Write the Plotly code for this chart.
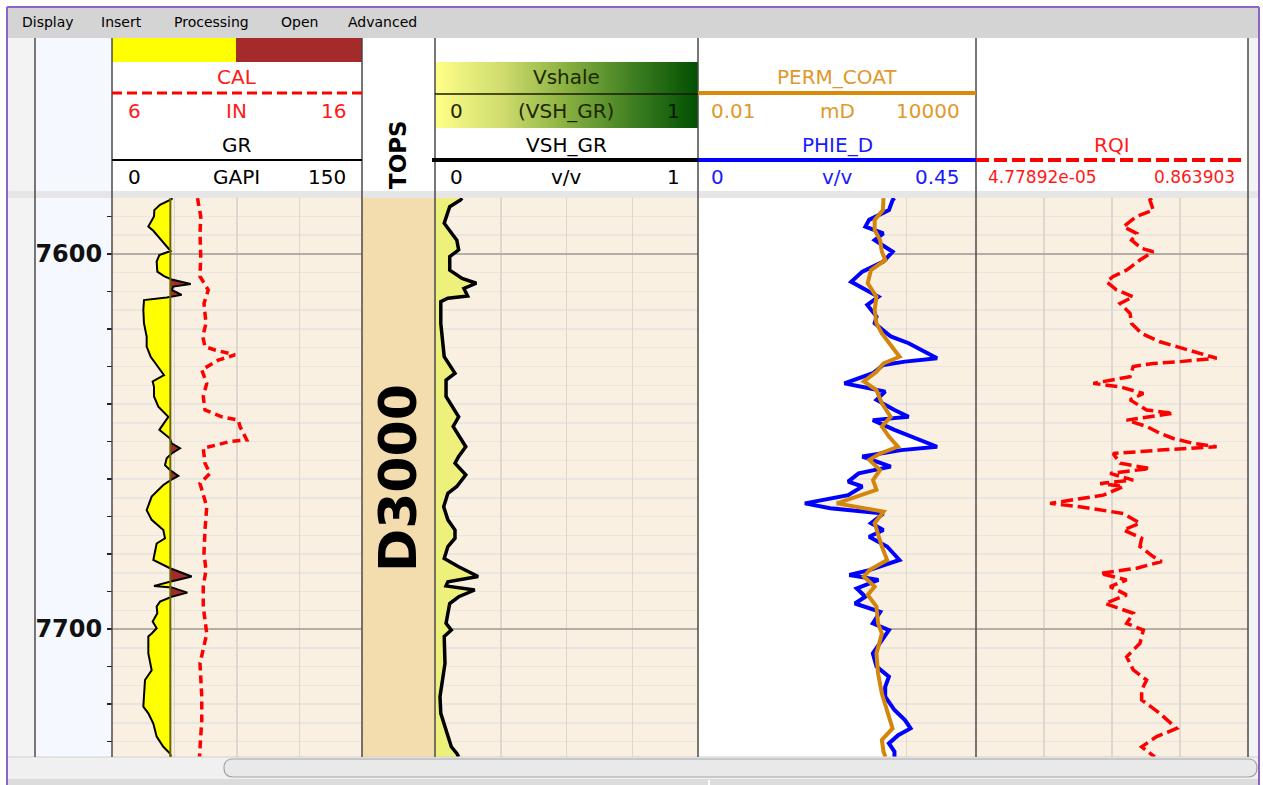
import numpy as np
import plotly.graph_objects as go

# ---------------- data ----------------
DEPTH_TOP = 7585.07
DEPTH_BOTTOM = 7734.13
DEPTH_LABELS = [7600, 7700]

# (depth ft, GR gAPI)
GR_LOG = [
    (7585.1, 35.8), (7585.4, 35.8), (7586.9, 28.8), (7588.3, 25.4), (7590.0, 25.2), (7592.7, 21.8),
    (7593.8, 24.8), (7597.2, 31.2), (7599.2, 35.2), (7600.3, 28.4), (7602.0, 26.8), (7604.7, 27.2),
    (7605.9, 31.2), (7606.8, 35.8), (7608.0, 47.2), (7608.7, 36.8), (7609.6, 35.8), (7610.9, 41.8),
    (7611.6, 32.8), (7612.3, 19.2), (7614.9, 18.8), (7618.5, 19.2), (7622.0, 20.8), (7624.7, 20.8),
    (7627.4, 23.2), (7629.6, 26.8), (7632.3, 31.2), (7634.0, 24.4), (7635.4, 25.2), (7638.0, 25.2),
    (7640.7, 27.8), (7643.4, 33.8), (7645.2, 30.8), (7646.9, 28.4), (7649.2, 34.8), (7650.5, 35.8),
    (7651.8, 40.8), (7653.2, 35.8), (7654.5, 32.8), (7656.3, 31.8), (7657.6, 34.8), (7659.2, 39.8),
    (7660.3, 35.2), (7661.6, 30.8), (7664.7, 23.8), (7668.3, 20.8), (7670.9, 23.8), (7673.6, 30.8),
    (7675.8, 31.8), (7677.2, 26.8), (7679.4, 25.8), (7681.6, 24.8), (7683.8, 34.8), (7686.0, 47.8),
    (7687.4, 34.8), (7688.5, 25.2), (7688.9, 35.8), (7690.3, 45.2), (7691.4, 35.8), (7692.7, 28.8),
    (7694.0, 26.8), (7695.8, 27.2), (7698.0, 24.4), (7699.8, 26.8), (7701.2, 23.8), (7702.0, 21.8),
    (7706.5, 21.8), (7711.0, 23.8), (7713.6, 19.8), (7717.2, 19.2), (7720.7, 18.8), (7722.5, 21.8),
    (7725.2, 24.8), (7728.7, 26.8), (7731.4, 30.8), (7733.2, 34.8), (7734.1, 35.4),
]
GR_CUTOFF = 35.0

# (depth ft, caliper in)
CAL_LOG = [
    (7585.1, 9.42), (7585.4, 9.43), (7590.0, 9.55), (7594.5, 9.52), (7600.7, 9.55), (7606.0, 9.52),
    (7609.6, 9.85), (7613.2, 9.68), (7618.5, 9.76), (7622.0, 9.63), (7624.7, 9.72), (7625.6, 10.12),
    (7626.9, 10.92), (7628.3, 10.25), (7630.9, 9.59), (7634.5, 9.79), (7638.0, 9.65), (7641.6, 9.72),
    (7643.4, 10.39), (7644.3, 11.05), (7646.0, 11.12), (7649.6, 11.39), (7650.0, 10.72), (7650.9, 10.19),
    (7651.8, 9.65), (7655.8, 9.72), (7658.5, 9.92), (7661.2, 9.52), (7667.4, 9.79), (7673.6, 9.72),
    (7679.8, 9.68), (7684.3, 9.76), (7688.7, 9.65), (7694.0, 9.65), (7701.2, 9.79), (7709.2, 9.52),
    (7718.0, 9.59), (7724.3, 9.59), (7731.4, 9.52), (7734.1, 9.50),
]

# (depth ft, VSH_GR v/v)
VSH_LOG = [
    (7585.1, 0.103), (7585.6, 0.097), (7587.4, 0.056), (7591.8, 0.035), (7596.3, 0.083), (7598.9, 0.090),
    (7600.7, 0.056), (7604.3, 0.056), (7606.5, 0.103), (7607.8, 0.157), (7609.2, 0.110), (7611.2, 0.124),
    (7611.8, 0.049), (7612.7, 0.022), (7618.5, 0.022), (7622.9, 0.029), (7627.4, 0.035), (7631.8, 0.076),
    (7633.6, 0.042), (7638.0, 0.042), (7643.4, 0.090), (7646.0, 0.069), (7651.4, 0.117), (7654.0, 0.090),
    (7655.8, 0.076), (7658.9, 0.117), (7662.0, 0.083), (7663.8, 0.049), (7667.4, 0.033), (7670.9, 0.049),
    (7673.6, 0.076), (7675.8, 0.076), (7678.0, 0.049), (7681.2, 0.035), (7683.4, 0.090), (7686.0, 0.164),
    (7687.4, 0.049), (7688.5, 0.042), (7689.6, 0.151), (7691.4, 0.090), (7693.2, 0.056), (7695.8, 0.049),
    (7698.5, 0.042), (7700.3, 0.062), (7702.0, 0.035), (7709.2, 0.038), (7713.6, 0.029), (7718.0, 0.019),
    (7722.5, 0.022), (7727.0, 0.042), (7731.4, 0.062), (7733.2, 0.083), (7734.1, 0.090),
]

# (depth ft, PHIE_D v/v)
PHIE_LOG = [
    (7585.1, 0.318), (7585.6, 0.315), (7588.3, 0.309), (7590.9, 0.277), (7592.7, 0.271), (7594.5, 0.300),
    (7596.3, 0.286), (7599.4, 0.315), (7602.0, 0.300), (7604.7, 0.266), (7607.4, 0.248), (7609.6, 0.274),
    (7611.4, 0.292), (7613.6, 0.274), (7616.7, 0.289), (7618.5, 0.286), (7622.0, 0.312), (7623.8, 0.341),
    (7626.5, 0.373), (7627.8, 0.387), (7628.7, 0.335), (7629.6, 0.300), (7631.8, 0.283), (7634.5, 0.237),
    (7635.8, 0.277), (7636.7, 0.303), (7638.9, 0.289), (7641.6, 0.318), (7643.4, 0.341), (7644.3, 0.283),
    (7646.9, 0.318), (7649.2, 0.352), (7651.4, 0.387), (7652.3, 0.329), (7654.0, 0.266), (7656.7, 0.312),
    (7658.5, 0.260), (7660.7, 0.243), (7662.0, 0.266), (7664.3, 0.243), (7666.5, 0.173), (7667.8, 0.214),
    (7669.2, 0.300), (7671.8, 0.280), (7673.6, 0.300), (7675.4, 0.277), (7678.0, 0.306), (7681.6, 0.326),
    (7684.3, 0.277), (7685.6, 0.245), (7686.9, 0.292), (7689.2, 0.257), (7691.4, 0.271), (7693.2, 0.254),
    (7695.4, 0.295), (7698.5, 0.283), (7700.3, 0.309), (7702.9, 0.298), (7706.5, 0.283), (7710.0, 0.289),
    (7712.7, 0.309), (7715.4, 0.303), (7718.0, 0.303), (7721.6, 0.318), (7724.3, 0.335), (7726.5, 0.344),
    (7728.3, 0.324), (7730.5, 0.309), (7732.7, 0.318), (7734.1, 0.318),
]

# (depth ft, PERM_COAT mD)
PERM_LOG = [
    (7585.1, 101), (7585.6, 101), (7588.3, 98), (7590.9, 65), (7593.6, 65), (7596.3, 85), (7599.4, 93),
    (7601.6, 111), (7604.3, 54), (7607.8, 46), (7611.4, 71), (7614.9, 65), (7618.5, 71), (7621.2, 93),
    (7624.7, 158), (7627.4, 224), (7629.2, 101), (7631.4, 71), (7634.0, 38), (7636.3, 71), (7639.8, 93),
    (7643.4, 144), (7646.0, 93), (7648.7, 132), (7651.4, 206), (7653.2, 85), (7654.9, 50), (7657.6, 85),
    (7660.3, 60), (7662.9, 71), (7666.5, 10), (7668.7, 101), (7671.8, 65), (7674.9, 77), (7678.0, 93),
    (7681.6, 121), (7684.3, 50), (7686.0, 38), (7688.7, 65), (7690.9, 46), (7694.0, 71), (7698.5, 77),
    (7701.2, 93), (7706.5, 71), (7711.8, 77), (7717.2, 93), (7721.6, 121), (7726.5, 158), (7729.6, 93),
    (7732.7, 101), (7734.1, 111),
]

# (depth ft, RQI)
RQI_LOG = [
    (7585.1, 0.0270), (7585.6, 0.0252), (7588.3, 0.0284), (7590.0, 0.0156), (7592.7, 0.0097),
    (7594.5, 0.0156), (7596.3, 0.0130), (7598.5, 0.0187), (7599.4, 0.0284), (7601.6, 0.0176),
    (7604.3, 0.0109), (7606.0, 0.0067), (7607.4, 0.0053), (7609.6, 0.0076), (7611.4, 0.0138),
    (7613.2, 0.0086), (7615.8, 0.0123), (7618.5, 0.0130), (7621.2, 0.0187), (7623.4, 0.0361),
    (7624.7, 0.0659), (7626.5, 0.153), (7627.8, 0.279), (7628.7, 0.0743), (7629.2, 0.0284),
    (7630.0, 0.0138), (7632.7, 0.0123), (7634.5, 0.00327), (7635.4, 0.0086), (7637.2, 0.0199),
    (7638.9, 0.0123), (7641.6, 0.0224), (7642.5, 0.0585), (7644.3, 0.0109), (7646.0, 0.0224),
    (7647.8, 0.0361), (7649.2, 0.0585), (7650.5, 0.120), (7651.4, 0.279), (7652.3, 0.0361),
    (7653.2, 0.0067), (7655.8, 0.0086), (7657.2, 0.0252), (7658.5, 0.0060), (7660.3, 0.0138),
    (7661.2, 0.0042), (7662.0, 0.0097), (7664.3, 0.0047), (7666.5, 0.00069), (7667.4, 0.0020),
    (7668.7, 0.0060), (7669.2, 0.0097), (7671.8, 0.0176), (7673.6, 0.0097), (7675.8, 0.0187),
    (7678.0, 0.0176), (7680.7, 0.0284), (7682.0, 0.0384), (7683.8, 0.0156), (7685.2, 0.0042),
    (7686.9, 0.0109), (7688.7, 0.0060), (7690.9, 0.0109), (7693.2, 0.0050), (7695.8, 0.0138),
    (7698.5, 0.0109), (7700.3, 0.0199), (7703.8, 0.0176), (7707.4, 0.0109), (7710.9, 0.0138),
    (7713.6, 0.0224), (7716.3, 0.0187), (7718.9, 0.0187), (7722.5, 0.0361), (7726.5, 0.0659),
    (7728.7, 0.0321), (7731.4, 0.0187), (7733.6, 0.0284), (7734.1, 0.0300),
]

GR_RANGE = [0, 150]
CAL_RANGE = [6, 16]
VSH_RANGE = [0, 1]
PHIE_RANGE = [0, 0.45]
PERM_RANGE = [0.01, 10000]
RQI_RANGE = [4.77892e-05, 0.863903]

MENU_ITEMS = ["Display", "Insert", "Processing", "Open", "Advanced"]
TOP_NAME = "D3000"

# ---------------- helpers ----------------
W, H = 1263, 785
FONT = "DejaVu Sans"


def px(x):
    return x / W


def py(y):
    return 1 - y / H


def unzip(pairs):
    d = np.array([p[0] for p in pairs], dtype=float)
    v = np.array([p[1] for p in pairs], dtype=float)
    return d, v


def split_at(depths, vals, cut):
    d_out, v_out = [], []
    for i in range(len(vals)):
        if i > 0:
            v0, v1 = vals[i - 1], vals[i]
            if (v0 - cut) * (v1 - cut) < 0:
                t = (cut - v0) / (v1 - v0)
                d_out.append(depths[i - 1] + t * (depths[i] - depths[i - 1]))
                v_out.append(cut)
        d_out.append(depths[i])
        v_out.append(vals[i])
    return np.array(d_out), np.array(v_out)


shapes = []
annotations = []


def rect(x0, y0, x1, y1, fill, line_color=None, lw=0, layer="below"):
    shapes.append(dict(type="rect", xref="paper", yref="paper", x0=px(x0), x1=px(x1), y0=py(y1), y1=py(y0),
                       fillcolor=fill, line=dict(color=line_color or fill, width=lw), layer=layer))


def line(x0, y0, x1, y1, color, width=1.0, dash="solid", layer="above"):
    shapes.append(dict(type="line", xref="paper", yref="paper", x0=px(x0), x1=px(x1), y0=py(y0), y1=py(y1),
                       line=dict(color=color, width=width, dash=dash), layer=layer))


def rounded(x0, y0, x1, y1, r, fill, border):
    def P(x, y):
        return f"{px(x):.6f},{py(y):.6f}"
    path = (f"M {P(x0 + r, y0)} L {P(x1 - r, y0)} Q {P(x1, y0)} {P(x1, y0 + r)} "
            f"L {P(x1, y1 - r)} Q {P(x1, y1)} {P(x1 - r, y1)} L {P(x0 + r, y1)} "
            f"Q {P(x0, y1)} {P(x0, y1 - r)} L {P(x0, y0 + r)} Q {P(x0, y0)} {P(x0 + r, y0)} Z")
    shapes.append(dict(type="path", xref="paper", yref="paper", path=path, fillcolor=fill,
                       line=dict(color=border, width=1.2), layer="above"))


def ann(text, x, y, color="#000000", size=20, anchor="center", bold=False, angle=0):
    annotations.append(dict(text=text, x=px(x), y=py(y), xref="paper", yref="paper", showarrow=False,
                            xanchor=anchor, yanchor="middle", textangle=angle,
                            font=dict(family=FONT, size=size, color=color, weight="bold" if bold else "normal")))


# ---------------- static frame ----------------
rect(8, 8, 1258, 38, "#d4d4d4")
rect(8, 38, 35, 757, "#f3f3f3")
rect(1248, 38, 1258, 757, "#f3f3f3")
rect(35, 38, 112, 757, "#f5f9ff")
rect(112, 38, 236, 62, "#ffff00")
rect(236, 38, 362, 62, "#a52a2a")
rect(362, 198, 435, 757, "#f3dcae")
rect(8, 191, 1258, 198, "#e6e6e6")
rect(8, 757, 1258, 779, "#f0f0f0")
rect(8, 779, 1258, 785, "#dcdcdc")
line(8, 757, 1258, 757, "#d0d0d0", 1)
rounded(224, 759, 1257, 777, 9, "#e9e9e9", "#a3a3a3")
line(709, 780, 709, 785, "#ffffff", 2)

for xv in [35, 112, 362, 435, 698, 976, 1248]:
    line(xv, 38, xv, 757, "#4a4a4a", 1.5)

# header lines
line(112, 93, 362, 93, "#ff0000", 3, "10px,5px")
line(112, 160, 362, 160, "#000000", 2)
line(435, 94, 698, 94, "#1a1a00", 1.5)
line(432, 160, 698, 160, "#000000", 4)
line(698, 93, 976, 93, "#d98a0a", 4)
line(698, 160, 976, 160, "#0000ff", 4)
line(976, 160, 1246, 160, "#ff0000", 4, "13px,5px")

# window frame
line(7, 7, 1259, 7, "#8c63c6", 2)
line(7, 7, 7, 785, "#8c63c6", 2)
line(1259, 7, 1259, 785, "#8c63c6", 2)

# GR cutoff line (data coordinates)
shapes.append(dict(type="line", xref="x", yref="paper", x0=GR_CUTOFF, x1=GR_CUTOFF, y0=py(757), y1=py(198),
                   line=dict(color="#6a6600", width=2), layer="above"))

# ---------------- text ----------------
for name, cx in zip(MENU_ITEMS, [48, 122, 211, 299, 383]):
    ann(name, cx, 22, "#000000", 14)

RED = "#ff1a1a"
ann("CAL", 237, 77, RED)
ann("6", 126, 111, RED, anchor="left")
ann("IN", 237, 111, RED)
ann("16", 348, 111, RED, anchor="right")
ann("GR", 237, 145)
ann("0", 126, 177, anchor="left")
ann("GAPI", 237, 177)
ann("150", 348, 177, anchor="right")

ann("TOPS", 398, 155, "#000000", 23, bold=True, angle=-90)
ann(TOP_NAME, 398, 478, "#000000", 52, bold=True, angle=-90)

DK = "#1e2600"
ann("Vshale", 566, 77, DK)
ann("0", 448, 111, DK, anchor="left")
ann("(VSH_GR)", 566, 111, DK)
ann("1", 682, 111, "#061400", anchor="right")
ann("VSH_GR", 566, 145)
ann("0", 448, 177, anchor="left")
ann("v/v", 566, 177)
ann("1", 682, 177, anchor="right")

OR = "#e0982a"
BL = "#1a1aff"
ann("PERM_COAT", 837, 77, OR)
ann("0.01", 709, 111, OR, anchor="left")
ann("mD", 837, 111, OR)
ann("10000", 962, 111, OR, anchor="right")
ann("PHIE_D", 837, 145, BL)
ann("0", 709, 177, BL, anchor="left")
ann("v/v", 837, 177, BL)
ann("0.45", 962, 177, BL, anchor="right")

ann("RQI", 1112, 145, RED)
ann("4.77892e-05", 986, 177, RED, 17, anchor="left")
ann("0.863903", 1237, 177, RED, 17, anchor="right")

# ---------------- traces ----------------
fig = go.Figure()

gr_d, gr_v = unzip(GR_LOG)
fd, fv = split_at(gr_d, gr_v, GR_CUTOFF)
base = np.full_like(fv, GR_CUTOFF)
common = dict(mode="lines", hoverinfo="skip", showlegend=False)
fig.add_trace(go.Scatter(x=base, y=fd, xaxis="x", yaxis="y", line=dict(width=0), **common))
fig.add_trace(go.Scatter(x=np.minimum(fv, GR_CUTOFF), y=fd, xaxis="x", yaxis="y", fill="tonextx",
                         fillcolor="#ffff00", line=dict(width=0), **common))
fig.add_trace(go.Scatter(x=base, y=fd, xaxis="x", yaxis="y", line=dict(width=0), **common))
fig.add_trace(go.Scatter(x=np.maximum(fv, GR_CUTOFF), y=fd, xaxis="x", yaxis="y", fill="tonextx",
                         fillcolor="#a52a2a", line=dict(width=0), **common))
fig.add_trace(go.Scatter(x=gr_v, y=gr_d, xaxis="x", yaxis="y", line=dict(color="#000000", width=2), **common))

cal_d, cal_v = unzip(CAL_LOG)
fig.add_trace(go.Scatter(x=cal_v, y=cal_d, xaxis="x2", yaxis="y",
                         line=dict(color="#ff0000", width=3.5, dash="8px,5px"), **common))

vsh_d, vsh_v = unzip(VSH_LOG)
fig.add_trace(go.Scatter(x=vsh_v, y=vsh_d, xaxis="x3", yaxis="y", fill="tozerox", fillcolor="#eef07c",
                         line=dict(color="#000000", width=3.5), **common))

ph_d, ph_v = unzip(PHIE_LOG)
fig.add_trace(go.Scatter(x=ph_v, y=ph_d, xaxis="x4", yaxis="y", fill="tozerox", fillcolor="#ffffff",
                         line=dict(color="#0000ff", width=4), **common))

pm_d, pm_v = unzip(PERM_LOG)
fig.add_trace(go.Scatter(x=pm_v, y=pm_d, xaxis="x5", yaxis="y",
                         line=dict(color="#d4860b", width=4), **common))

rq_d, rq_v = unzip(RQI_LOG)
fig.add_trace(go.Scatter(x=rq_v, y=rq_d, xaxis="x6", yaxis="y",
                         line=dict(color="#ff0000", width=3.5, dash="12px,5px"), **common))

# header gradient bar (Vshale colour scale)
grad = np.linspace(0, 1, 160)
fig.add_trace(go.Heatmap(z=[grad], x=grad, y=[0], xaxis="x7", yaxis="y3", showscale=False, zsmooth="best",
                         hoverinfo="skip",
                         colorscale=[[0, "#ffff88"], [0.25, "#cfdd6e"], [0.5, "#88b040"],
                                     [0.75, "#3f7f22"], [1, "#004f00"]]))

# anchor trace for the depth label axis
fig.add_trace(go.Scatter(x=[GR_CUTOFF], y=[7650], xaxis="x", yaxis="y2", mode="markers",
                         marker=dict(opacity=0), hoverinfo="skip", showlegend=False))

# ---------------- axes ----------------
GRID = "#dcd8d0"
hidden = dict(showline=False, zeroline=False, ticks="", showticklabels=False)


def quarter(lo, hi):
    return [lo + (hi - lo) * q for q in (0.25, 0.5, 0.75)]


lo_r, hi_r = np.log10(RQI_RANGE[0]), np.log10(RQI_RANGE[1])

layout_axes = dict(
    xaxis=dict(domain=[px(112), px(362)], range=GR_RANGE, anchor="y", tickmode="array",
               tickvals=quarter(*GR_RANGE), showgrid=True, gridcolor=GRID, gridwidth=1.5, **hidden),
    xaxis2=dict(overlaying="x", range=CAL_RANGE, anchor="y", visible=False),
    xaxis3=dict(domain=[px(435), px(698)], range=VSH_RANGE, anchor="y", tickmode="array",
                tickvals=quarter(*VSH_RANGE), showgrid=True, gridcolor=GRID, gridwidth=1.5, **hidden),
    xaxis4=dict(domain=[px(698), px(976)], range=PHIE_RANGE, anchor="y", tickmode="array",
                tickvals=quarter(*PHIE_RANGE), showgrid=True, gridcolor=GRID, gridwidth=1.5, **hidden),
    xaxis5=dict(overlaying="x4", type="log", range=[np.log10(PERM_RANGE[0]), np.log10(PERM_RANGE[1])],
                anchor="y", visible=False),
    xaxis6=dict(domain=[px(976), px(1248)], type="log", range=[lo_r, hi_r], anchor="y", tickmode="array",
                tickvals=[10 ** v for v in quarter(lo_r, hi_r)], showgrid=True, gridcolor=GRID,
                gridwidth=1.5, **hidden),
    xaxis7=dict(domain=[px(435), px(698)], range=[0, 1], anchor="y3", visible=False),
    yaxis=dict(domain=[py(757), py(198)], range=[DEPTH_BOTTOM, DEPTH_TOP], anchor="x", tickmode="array",
               tickvals=DEPTH_LABELS, showgrid=True, gridcolor="#b3aea6", gridwidth=2,
               minor=dict(tickmode="array", tickvals=list(np.arange(7590, 7735, 5)), showgrid=True,
                          gridcolor="#e9e5df", gridwidth=1.5, ticks=""),
               **hidden),
    yaxis2=dict(overlaying="y", anchor="free", position=px(112), side="left",
                range=[DEPTH_BOTTOM, DEPTH_TOP], tickmode="array",
                tickvals=list(range(7590, 7735, 10)),
                ticktext=[str(v) if v in DEPTH_LABELS else "" for v in range(7590, 7735, 10)],
                ticks="outside", ticklen=5, tickwidth=1.5, tickcolor="#222222",
                showgrid=False, zeroline=False, showline=False,
                tickfont=dict(family=FONT, size=24, color="#111111", weight="bold")),
    yaxis3=dict(domain=[py(128), py(62)], range=[-0.5, 0.5], anchor="x7", visible=False),
)

fig.update_layout(
    width=W, height=H, margin=dict(l=0, r=0, t=0, b=0),
    paper_bgcolor="#ffffff", plot_bgcolor="#faf0e1",
    showlegend=False, hovermode=False,
    shapes=shapes, annotations=annotations,
    **layout_axes,
)

fig.write_html("out.html", config={"displayModeBar": False, "staticPlot": True},
               post_script="document.body.style.margin='0';document.body.style.padding='0';"
                           "document.body.style.overflow='hidden';")
